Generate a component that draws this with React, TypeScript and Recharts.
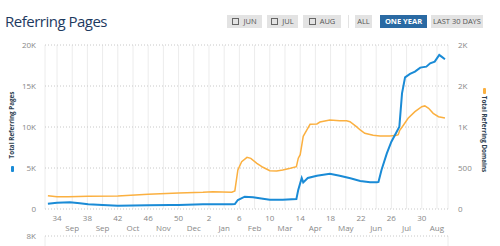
import React from "react";
import {
  CartesianGrid,
  Line,
  LineChart,
  XAxis,
  YAxis,
} from "recharts";

// weeks are counted on from last year, so week 2 of this year is 54
const pageWeeks = [
  32.8, 34, 35.7, 37, 38.1, 40, 42, 44, 46, 48.9, 50, 53.2, 54.5, 57, 57.4,
  57.8, 58.7, 59.8, 61.1, 62, 63.7, 65.5, 65.75, 66.2, 66.4, 67, 68.2, 69.9,
  71.2, 72.6, 73.9, 75.2, 76.1, 76.3, 76.7, 77.4, 78, 78.7, 79.05, 79.4, 79.8,
  80.45, 81.1, 81.8, 82.6, 83.1, 83.7, 84.3, 84.6, 85.05,
];
const pageCounts = [
  650, 760, 820, 700, 570, 480, 400, 430, 450, 490, 500, 573, 573, 573, 600,
  1100, 1500, 1430, 1260, 1135, 1135, 1220, 2360, 3780, 3250, 3780, 4060, 4310,
  4060, 3740, 3420, 3250, 3250, 3300, 4760, 6790, 8210, 9430, 10040, 14110,
  16060, 16470, 16750, 17240, 17360, 17770, 17970, 18790, 18580, 18260,
];

const domainWeeks = [
  32.8, 34, 35.5, 38.1, 42, 46, 50, 53.2, 54.5, 57, 57.4, 57.8, 58.3, 59,
  59.5, 60.3, 61.1, 62, 62.9, 63.7, 64.7, 65.5, 65.75, 66, 66.4, 66.9, 67.3,
  68.2, 68.6, 69.9, 71.2, 72.1, 72.55, 73.4, 73.9, 74.5, 75.6, 76.5, 77.8,
  78.7, 78.9, 79.1, 79.6, 80.2, 81.1, 82, 82.4, 82.9, 83.5, 84.2, 85.05,
];
const domainCounts = [
  162, 148, 150, 155, 159, 179, 195, 204, 211, 204, 220, 476, 577, 630, 618,
  557, 509, 467, 463, 476, 496, 516, 620, 662, 887, 968, 1033, 1037, 1061,
  1086, 1077, 1077, 1065, 1004, 964, 923, 899, 890, 890, 899, 906, 960, 1025,
  1106, 1187, 1248, 1257, 1228, 1167, 1126, 1110,
];

const gridWeeks = [
  34, 36, 38, 40, 42, 44, 46, 48, 50, 52, 54, 56, 58, 60, 62, 64, 66, 68, 70,
  72, 74, 76, 78, 80, 82, 84,
];
const labelWeeks = [34, 38, 42, 46, 50, 54, 58, 62, 66, 70, 74, 78, 82];
const weekLabels = ["34", "38", "42", "46", "50", "2", "6", "10", "14", "18", "22", "26", "30"];
const monthWeeks = [36, 40, 44, 48, 52, 56, 60, 64, 68, 72, 76, 80, 84];
const monthLabels = ["Sep", "Sep", "Oct", "Nov", "Dec", "Jan", "Feb", "Mar", "Apr", "May", "Jun", "Jul", "Aug"];

const pageTicks = [0, 5000, 10000, 15000, 20000];
const domainTicks = [0, 500, 1000, 1500, 2000];
const nextChartTicks = [0, 8000];

const pageData = pageWeeks.map((week, i) => ({ week, pages: pageCounts[i] }));
const domainData = domainWeeks.map((week, i) => ({ week, domains: domainCounts[i] }));
// the chart below is cut off by the page edge, only its top shows
const emptyData = gridWeeks.map((week) => ({ week }));

const FONT = "'Open Sans', sans-serif";
const X_DOMAIN = [32.42, 85.45];

const fmtPages = (v: number) => (v === 0 ? "0" : v / 1000 + "K");
const fmtDomains = (v: number) => (v >= 1000 ? Math.round(v / 1000) + "K" : String(v));

function WeekTick(props: any) {
  const { x, y, payload } = props;
  const w = labelWeeks.indexOf(payload.value);
  const m = monthWeeks.indexOf(payload.value);
  return (
    <g>
      {w >= 0 && (
        <text x={x} y={y + 10} textAnchor="middle" fontSize={8} fill="#888" fontFamily={FONT}>
          {weekLabels[w]}
        </text>
      )}
      {m >= 0 && (
        <text x={x} y={y + 20} textAnchor="middle" fontSize={8} fill="#888" fontFamily={FONT}>
          {monthLabels[m]}
        </text>
      )}
    </g>
  );
}

function Button({ left, width, text, check, active }: any) {
  return (
    <div
      style={{
        position: "absolute",
        left,
        top: 15,
        width,
        height: 13,
        background: active ? "#2a6aa3" : "#e3e3e3",
        color: active ? "#fff" : "#555",
        fontSize: 7.5,
        fontWeight: active ? 700 : 400,
        lineHeight: "13px",
        textAlign: "center",
        fontFamily: FONT,
        whiteSpace: "nowrap",
      }}
    >
      {check && (
        <span
          style={{
            display: "inline-block",
            width: 5,
            height: 5,
            border: "1px solid #666",
            marginRight: 4,
            verticalAlign: "-1px",
          }}
        />
      )}
      {text}
    </div>
  );
}

function SideTitle({ cx, cy, text, angle, color, markX, markY }: any) {
  return (
    <>
      <div
        style={{
          position: "absolute",
          left: cx - 50,
          top: cy - 5,
          width: 100,
          height: 10,
          lineHeight: "10px",
          textAlign: "center",
          fontSize: 6.3,
          fontWeight: 700,
          color: "#2c3e50",
          fontFamily: FONT,
          transform: `rotate(${angle}deg)`,
          whiteSpace: "nowrap",
        }}
      >
        {text}
      </div>
      <div
        style={{
          position: "absolute",
          left: markX,
          top: markY,
          width: 3,
          height: 6,
          borderRadius: 1,
          background: color,
        }}
      />
    </>
  );
}

export default function App() {
  return (
    <div
      style={{
        position: "absolute",
        left: 0,
        top: 0,
        width: 500,
        height: 246,
        overflow: "hidden",
        background: "#fff",
      }}
    >
      <div
        style={{
          position: "absolute",
          left: 5,
          top: 11,
          fontSize: 15,
          letterSpacing: -0.5,
          color: "#1e3a5f",
          fontFamily: FONT,
          whiteSpace: "nowrap",
        }}
      >
        Referring Pages
      </div>
      <Button left={227} width={35} text="JUN" check />
      <Button left={267} width={31} text="JUL" check />
      <Button left={303} width={38} text="AUG" check />
      <div style={{ position: "absolute", left: 348, top: 15, width: 1, height: 13, background: "#e3e3e3" }} />
      <Button left={355} width={17} text="ALL" />
      <Button left={380} width={47} text="ONE YEAR" active />
      <Button left={431} width={52} text="LAST 30 DAYS" />

      <div style={{ position: "absolute", left: 0, top: 0 }}>
        <LineChart width={500} height={235} margin={{ top: 45, right: 0, left: 0, bottom: 0 }}>
          <CartesianGrid horizontal={false} stroke="#ececec" yAxisId="pages" />
          <CartesianGrid vertical={false} stroke="#c8c8c8" strokeDasharray="1 2" yAxisId="pages" />
          <XAxis
            dataKey="week"
            type="number"
            domain={X_DOMAIN}
            ticks={gridWeeks}
            interval={0}
            axisLine={false}
            tickLine={false}
            tickSize={0}
            height={26}
            tick={<WeekTick />}
            allowDuplicatedCategory={false}
          />
          <YAxis
            yAxisId="pages"
            orientation="left"
            width={45}
            domain={[0, 20000]}
            ticks={pageTicks}
            tickFormatter={fmtPages}
            axisLine={false}
            tickLine={false}
            tickSize={0}
            tickMargin={9}
            tick={{ fontSize: 8, fill: "#888", fontFamily: FONT }}
          />
          <YAxis
            yAxisId="domains"
            orientation="right"
            width={52}
            domain={[0, 2000]}
            ticks={domainTicks}
            tickFormatter={fmtDomains}
            axisLine={false}
            tickLine={false}
            tickSize={0}
            tickMargin={10}
            tick={{ fontSize: 8, fill: "#888", fontFamily: FONT, textAnchor: "start" }}
          />
          <Line
            yAxisId="domains"
            data={domainData}
            dataKey="domains"
            type="linear"
            stroke="#fbb040"
            strokeWidth={1.5}
            dot={false}
            isAnimationActive={false}
          />
          <Line
            yAxisId="pages"
            data={pageData}
            dataKey="pages"
            type="linear"
            stroke="#1a8bd6"
            strokeWidth={2}
            dot={false}
            isAnimationActive={false}
          />
        </LineChart>
      </div>

      <div style={{ position: "absolute", left: 0, top: 231 }}>
        <LineChart width={500} height={80} data={emptyData} margin={{ top: 5, right: 52, left: 0, bottom: 0 }}>
          <CartesianGrid horizontal={false} stroke="#ececec" />
          <CartesianGrid vertical={false} stroke="#c8c8c8" strokeDasharray="1 2" />
          <XAxis
            dataKey="week"
            type="number"
            domain={X_DOMAIN}
            allowDataOverflow
            ticks={gridWeeks}
            interval={0}
            axisLine={false}
            tickLine={false}
            tick={false}
            height={1}
          />
          <YAxis
            width={45}
            type="number"
            domain={[0, 8000]}
            allowDataOverflow
            ticks={nextChartTicks}
            tickFormatter={fmtPages}
            axisLine={false}
            tickLine={false}
            tickSize={0}
            tickMargin={9}
            tick={{ fontSize: 8, fill: "#888", fontFamily: FONT }}
          />
        </LineChart>
      </div>

      <SideTitle cx={12} cy={125} text="Total Referring Pages" angle={-90} color="#1a8bd6" markX={10.5} markY={166} />
      <SideTitle cx={484} cy={134} text="Total Referring Domains" angle={90} color="#fbb040" markX={482.5} markY={88} />
    </div>
  );
}
